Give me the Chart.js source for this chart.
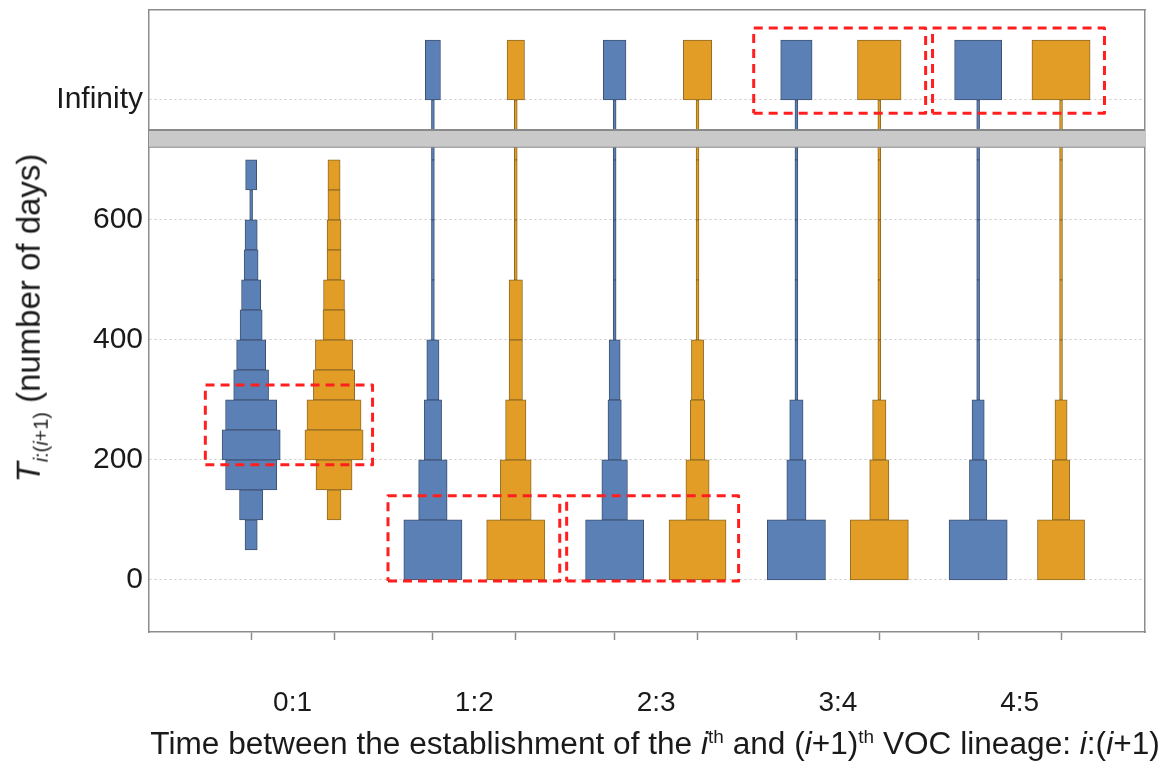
<!DOCTYPE html>
<html>
<head>
<meta charset="utf-8">
<script src="https://cdn.jsdelivr.net/npm/chart.js@4.4.1/dist/chart.umd.min.js"></script>
<style>
  body { margin: 0; background: #fff; }
  #wrap { position: relative; width: 1164px; height: 766px; }
  #chart { position: absolute; left: 0; top: 0; }
  .axis-title { position: absolute; font-family: 'Liberation Sans', Arial, sans-serif; color: #1a1a1a; white-space: nowrap; }
  #xTitle { left: 655px; top: 726px; font-size: 31px; transform: translateX(-50%) scaleX(1.02); }
  #yTitle { left: 31px; top: 318px; font-size: 33px; transform: translate(-50%, -50%) rotate(-90deg); }
  .axis-title sup, .axis-title sub { font-size: 60%; }
</style>
</head>
<body>
<div id="wrap">
  <canvas id="chart" width="1164" height="766"></canvas>
  <div class="axis-title" id="xTitle">Time between the establishment of the <i>i</i><sup>th</sup> and (<i>i</i>+1)<sup>th</sup> VOC lineage: <i>i</i>:(<i>i</i>+1)</div>
  <div class="axis-title" id="yTitle"><i>T</i><sub><i>i</i>:(<i>i</i>+1)</sub> (number of days)</div>
</div>
<script>
// groups on the x axis
var groups = ['0:1', '1:2', '2:3', '3:4', '4:5'];

// bin starts (days). 0:1 uses 50 day bins, the rest 100 day bins, 800 = "Infinity"
var binStart50 = [50, 100, 150, 200, 250, 300, 350, 400, 450, 500, 550, 600, 650];
var binStart100 = [0, 100, 200, 300, 400, 500, 600, 700];
var infinityBin = 800;

// relative frequency of each bin (% of the modal bin of the column)
var blueFirst = [21, 40, 88, 100, 88, 60, 50, 38, 33, 24, 21, 5, 19];
var orangeFirst = [0, 24, 62, 100, 93, 71, 64, 38, 36, 24, 24, 21, 21];

var blueLater = [
    [100, 49, 30, 21, 5, 5, 5, 5],
    [100, 44, 23, 19, 5, 5, 5, 5],
    [100, 33, 23, 5, 5, 5, 5, 5],
    [100, 30, 21, 5, 5, 5, 5, 5]
];
var orangeLater = [
    [100, 53, 35, 23, 23, 5, 5, 5],
    [98, 40, 25, 21, 5, 5, 5, 5],
    [100, 33, 23, 5, 5, 5, 5, 5],
    [81, 30, 21, 5, 5, 5, 5, 5]
];
var blueInfinity = [26, 39, 54, 81];
var orangeInfinity = [30, 49, 75, 100];

// y tick labels
var yLabelValues = [0, 200, 400, 600, 800];
var yLabelText = ['0', '200', '400', '600', 'Infinity'];

// dashed red highlight boxes (group units, days)
var highlightX = [[0.52, 1.44], [1.525, 2.47], [2.508, 3.454], [3.537, 4.483], [4.521, 5.467]];
var highlightY = [[192, 325], [-2, 140], [-2, 140], [778, 920], [778, 920]];

// axis break between 700 and Infinity
var axisBreak = [722, 750];

var BLUE = '#5b80b6', BLUE_EDGE = '#3e5273';
var ORANGE = '#e19d25', ORANGE_EDGE = '#8f6a24';
var FRAME = '#8c8c8c';
var FONT = "'Liberation Sans Narrow', 'Liberation Sans', Arial, sans-serif";

var X_MIN = 0.21, X_MAX = 5.69, Y_MIN = -87, Y_MAX = 950;
var OFFSET = 0.228;          // blue left / orange right of group centre
var WIDTH_PER_PCT = 0.32 / 100;

function isCentre(v) {
    return Math.abs(v - Math.round(v)) < 1e-6;
}

function column(freqs, starts, binSize, centre, fill, edge, axisId) {
    var data = [];
    freqs.forEach(function (f, i) {
        if (!f) return;
        var half = f * WIDTH_PER_PCT / 2;
        data.push({ y: starts[i] + binSize / 2, x: [centre - half, centre + half] });
    });
    return {
        type: 'bar',
        indexAxis: 'y',
        xAxisID: 'x',
        yAxisID: axisId,
        data: data,
        backgroundColor: fill,
        borderColor: edge,
        borderWidth: 1,
        borderSkipped: false,
        grouped: false,
        barPercentage: 1,
        categoryPercentage: 1,
        order: 3
    };
}

var datasets = [];
datasets.push(column(blueFirst, binStart50, 50, 1 - OFFSET, BLUE, BLUE_EDGE, 'y50'));
datasets.push(column(orangeFirst, binStart50, 50, 1 + OFFSET, ORANGE, ORANGE_EDGE, 'y50'));
var laterStarts = binStart100.concat([infinityBin]);
for (var k = 0; k < blueLater.length; k++) {
    datasets.push(column(blueLater[k].concat([blueInfinity[k]]), laterStarts, 100, k + 2 - OFFSET, BLUE, BLUE_EDGE, 'y'));
    datasets.push(column(orangeLater[k].concat([orangeInfinity[k]]), laterStarts, 100, k + 2 + OFFSET, ORANGE, ORANGE_EDGE, 'y'));
}

// break band
datasets.push({
    type: 'line',
    data: [{ x: X_MIN, y: axisBreak[1] }, { x: X_MAX, y: axisBreak[1] }],
    borderColor: '#8a8a8a', borderWidth: 2, pointRadius: 0,
    fill: { value: axisBreak[0] }, backgroundColor: '#c9c9c9',
    order: 1
});
datasets.push({
    type: 'line',
    data: [{ x: X_MIN, y: axisBreak[0] }, { x: X_MAX, y: axisBreak[0] }],
    borderColor: '#8a8a8a', borderWidth: 2, pointRadius: 0, fill: false,
    order: 1
});

// highlight boxes
highlightX.forEach(function (hx, i) {
    var hy = highlightY[i];
    datasets.push({
        type: 'line',
        data: [
            { x: hx[0], y: hy[0] }, { x: hx[1], y: hy[0] },
            { x: hx[1], y: hy[1] }, { x: hx[0], y: hy[1] }, { x: hx[0], y: hy[0] }
        ],
        borderColor: '#ff1f1f', borderWidth: 3, borderDash: [9, 6],
        borderJoinStyle: 'round', borderCapStyle: 'butt',
        pointRadius: 0, fill: false, tension: 0,
        order: 0
    });
});

var xTicks = [];
groups.forEach(function (g, i) {
    xTicks.push(i + 1 - OFFSET, i + 1, i + 1 + OFFSET);
});

function noPad(s) {
    s.paddingTop = 0; s.paddingBottom = 0; s.paddingLeft = 0; s.paddingRight = 0;
}

var ctx = document.getElementById('chart').getContext('2d');
var chart = new Chart(ctx, {
    type: 'bar',
    data: { datasets: datasets },
    options: {
        responsive: false,
        animation: false,
        events: [],
        layout: { padding: { left: 59, right: 19, top: 10, bottom: 0 } },
        plugins: { legend: { display: false }, tooltip: { enabled: false } },
        scales: {
            x: {
                type: 'linear', position: 'bottom', min: X_MIN, max: X_MAX, offset: false,
                afterBuildTicks: function (s) {
                    s.ticks = xTicks.map(function (v) { return { value: v }; });
                },
                afterFit: function (s) { s.height = 134; noPad(s); },
                grid: {
                    drawOnChartArea: false, offset: false, tickLength: 8, tickWidth: 1.5,
                    tickColor: function (c) { return c.tick && isCentre(c.tick.value) ? 'transparent' : FRAME; }
                },
                border: { display: true, color: FRAME, width: 1.5 },
                ticks: {
                    autoSkip: false, maxRotation: 0, padding: 46, color: '#1a1a1a',
                    font: { family: FONT, size: 28 },
                    callback: function (v) { return isCentre(v) ? groups[Math.round(v) - 1] : ''; }
                }
            },
            y: {
                type: 'linear', position: 'left', min: Y_MIN, max: Y_MAX, offset: false,
                afterFit: function (s) { s.width = 90; noPad(s); },
                grid: {
                    drawTicks: false, offset: false, lineWidth: 1,
                    color: function (c) { return c.tick && yLabelValues.indexOf(c.tick.value) >= 0 ? '#c8c8c8' : 'transparent'; }
                },
                border: { display: true, color: FRAME, width: 1.5, dash: [2, 3] },
                ticks: {
                    stepSize: 100, includeBounds: false, autoSkip: false, padding: 6, color: '#1a1a1a',
                    font: { family: "'Liberation Sans', Arial, sans-serif", size: 30 },
                    callback: function (v) {
                        var i = yLabelValues.indexOf(v);
                        return i >= 0 ? yLabelText[i] : '';
                    }
                }
            },
            y50: {
                type: 'linear', axis: 'y', display: false, min: Y_MIN, max: Y_MAX, offset: false,
                ticks: { stepSize: 50, includeBounds: false }
            },
            xTop: {
                type: 'linear', axis: 'x', position: 'top', min: 0, max: 1,
                grid: { display: false }, ticks: { display: false },
                border: { display: true, color: FRAME, width: 1.5 },
                afterFit: function (s) { s.height = 0; noPad(s); }
            },
            yRight: {
                type: 'linear', axis: 'y', position: 'right', min: 0, max: 1,
                grid: { display: false }, ticks: { display: false },
                border: { display: true, color: FRAME, width: 1.5 },
                afterFit: function (s) { s.width = 0; noPad(s); }
            }
        }
    }
});
</script>
</body>
</html>
